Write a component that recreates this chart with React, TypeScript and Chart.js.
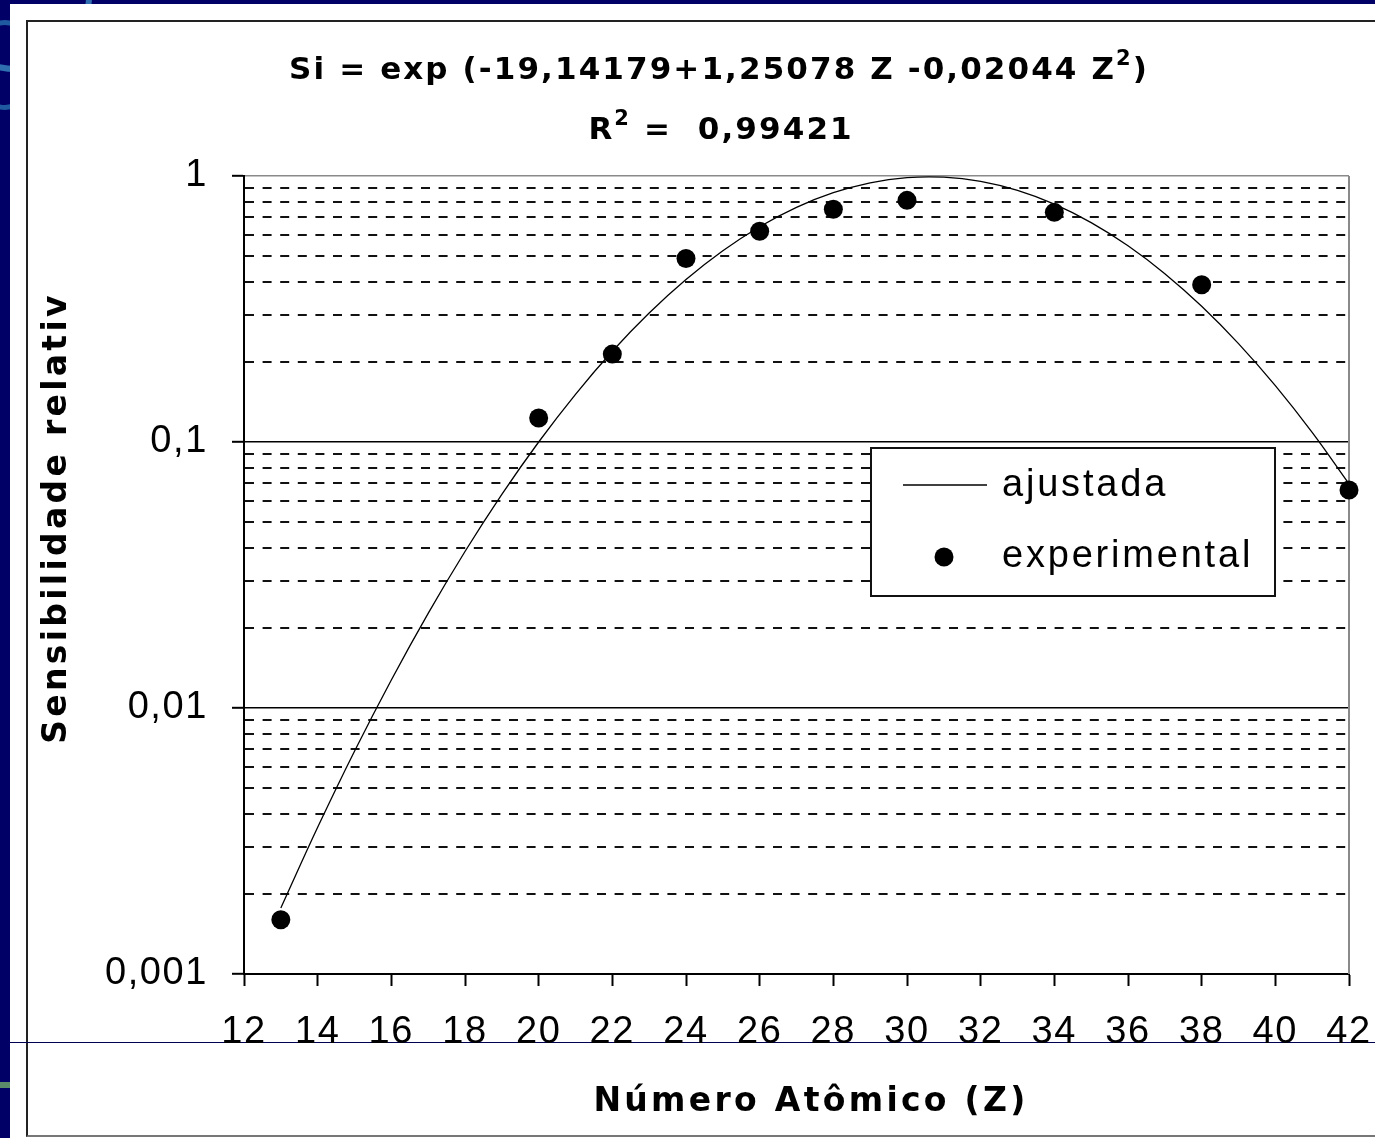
import React, { useEffect, useRef } from 'react';
import { Chart, registerables } from 'chart.js';

Chart.register(...registerables);

// ---- data ----
const fitZ = [13, 14, 15, 16, 17, 18, 19, 20, 21, 22, 23, 24, 25, 26, 27, 28, 29, 30, 31, 32, 33, 34, 35, 36, 37, 38, 39, 40, 41, 42];
const fitSi = [0.00177, 0.00356, 0.00688, 0.01275, 0.02269, 0.03876, 0.06357, 0.1, 0.1511, 0.2193, 0.3053, 0.408, 0.5235, 0.6447, 0.7622, 0.8651, 0.9425, 0.9857, 0.9896, 0.9537, 0.8823, 0.7835, 0.668, 0.5466, 0.4294, 0.3238, 0.2344, 0.1629, 0.1087, 0.0696];
const expZ = [13, 20, 22, 24, 26, 28, 30, 34, 38, 42];
const expSi = [0.0016, 0.123, 0.214, 0.49, 0.62, 0.75, 0.81, 0.73, 0.39, 0.066];

const yMajorValues = [0.001, 0.01, 0.1, 1];
const yMajorLabels = ['0,001', '0,01', '0,1', '1'];
const yMinorMultipliers = [2, 3, 4, 5, 6, 7, 8, 9];
const xMin = 12;
const xMax = 42;
const xStep = 2;

const seriesLabels = ['ajustada', 'experimental'];
const titleLine1 = [
  { t: 'Si = exp (-19,14179+1,25078 Z -0,02044 Z', sup: false },
  { t: '2', sup: true },
  { t: ')', sup: false },
];
const titleLine2 = [
  { t: 'R', sup: false },
  { t: '2', sup: true },
  { t: ' =  0,99421', sup: false },
];
const xTitle = 'Número Atômico (Z)';
const yTitle = 'Sensibilidade relativ';

const FONT = "'Liberation Sans', Arial, sans-serif";
const BOLD_FONT = "'DejaVu Sans', Verdana, sans-serif";

function drawSegments(ctx: CanvasRenderingContext2D, segs: { t: string; sup: boolean }[], cx: number, baseY: number, size: number, supSize: number, spacing: number, rise: number) {
  ctx.save();
  ctx.textAlign = 'left';
  ctx.textBaseline = 'alphabetic';
  ctx.fillStyle = '#000';
  const widths = segs.map((s) => {
    ctx.font = `bold ${s.sup ? supSize : size}px ${BOLD_FONT}`;
    (ctx as any).letterSpacing = '0px';
    return ctx.measureText(s.t).width + spacing * s.t.length;
  });
  const total = widths.reduce((a, b) => a + b, 0) - spacing;
  let x = cx - total / 2;
  segs.forEach((s, i) => {
    ctx.font = `bold ${s.sup ? supSize : size}px ${BOLD_FONT}`;
    (ctx as any).letterSpacing = spacing + 'px';
    ctx.fillText(s.t, x, s.sup ? baseY - rise : baseY);
    x += widths[i];
  });
  ctx.restore();
}

const decorPlugin = {
  id: 'decor',
  beforeDraw(chart: any) {
    (chart.ctx as any).letterSpacing = '1.6px';
  },
  beforeDatasetsDraw(chart: any) {
    const { ctx, chartArea } = chart;
    ctx.save();
    ctx.strokeStyle = '#8a8a8a';
    ctx.lineWidth = 2;
    ctx.beginPath();
    ctx.moveTo(chartArea.right, chartArea.top);
    ctx.lineTo(chartArea.right, chartArea.bottom);
    ctx.stroke();
    ctx.restore();
  },
  afterDatasetsDraw(chart: any) {
    const ctx: CanvasRenderingContext2D = chart.ctx;
    ctx.save();
    // legend box
    const bx = 871, by = 448, bw = 404, bh = 148;
    ctx.fillStyle = '#fff';
    ctx.fillRect(bx, by, bw, bh);
    ctx.strokeStyle = '#111';
    ctx.lineWidth = 2;
    ctx.strokeRect(bx, by, bw, bh);
    ctx.strokeStyle = '#000';
    ctx.lineWidth = 1.3;
    ctx.beginPath();
    ctx.moveTo(903, 485);
    ctx.lineTo(987, 485);
    ctx.stroke();
    ctx.fillStyle = '#000';
    ctx.beginPath();
    ctx.arc(944, 557, 9.5, 0, Math.PI * 2);
    ctx.fill();
    ctx.font = `38px ${FONT}`;
    (ctx as any).letterSpacing = '2.8px';
    ctx.textAlign = 'left';
    ctx.textBaseline = 'middle';
    ctx.fillText(seriesLabels[0], 1002, 486);
    ctx.fillText(seriesLabels[1], 1002, 557);
    ctx.restore();
  },
  afterDraw(chart: any) {
    const ctx: CanvasRenderingContext2D = chart.ctx;
    drawSegments(ctx, titleLine1, 718, 79, 31, 21, 2.1, 14);
    drawSegments(ctx, titleLine2, 720, 139, 31, 21, 2.1, 14);
    ctx.save();
    ctx.fillStyle = '#000';
    ctx.font = `bold 33px ${BOLD_FONT}`;
    (ctx as any).letterSpacing = '3.3px';
    ctx.textAlign = 'center';
    ctx.textBaseline = 'middle';
    ctx.fillText(xTitle, 811, 1102);
    ctx.translate(57, 520);
    ctx.rotate(-Math.PI / 2);
    (ctx as any).letterSpacing = '3.3px';
    ctx.fillText(yTitle, 2, 0);
    ctx.restore();
  },
};

function isMajor(v: number) {
  return yMajorValues.some((m) => Math.abs(m - v) < m * 1e-6);
}

export default function App() {
  const ref = useRef<HTMLCanvasElement | null>(null);
  useEffect(() => {
    if (!ref.current) return;
    const yTicks: number[] = [];
    yMajorValues.forEach((m, i) => {
      yTicks.push(m);
      if (i < yMajorValues.length - 1) yMinorMultipliers.forEach((k) => yTicks.push(+(m * k).toPrecision(6)));
    });
    const chart = new Chart(ref.current, {
      type: 'line',
      data: {
        datasets: [
          {
            label: seriesLabels[0],
            data: fitZ.map((z, i) => ({ x: z, y: fitSi[i] })),
            borderColor: '#000',
            borderWidth: 1.3,
            pointRadius: 0,
            tension: 0.4,
            fill: false,
          },
          {
            label: seriesLabels[1],
            data: expZ.map((z, i) => ({ x: z, y: expSi[i] })),
            showLine: false,
            pointRadius: 9.5,
            pointBackgroundColor: '#000',
            pointBorderWidth: 0,
            borderColor: '#000',
            clip: false,
          },
        ],
      },
      options: {
        responsive: false,
        animation: false,
        devicePixelRatio: 1,
        layout: { padding: { left: 0, right: 26, top: 176, bottom: 0 } },
        plugins: { legend: { display: false }, tooltip: { enabled: false }, title: { display: false } },
        scales: {
          x: {
            type: 'linear',
            min: xMin,
            max: xMax,
            afterFit: (s: any) => {
              s.height = 164;
              s.paddingLeft = 0;
              s.paddingRight = 0;
            },
            ticks: {
              stepSize: xStep,
              color: '#000',
              font: { family: FONT, size: 38 },
              padding: 24,
              maxRotation: 0,
              autoSkip: false,
              callback: (v: any) => String(v),
            },
            grid: {
              drawOnChartArea: false,
              color: '#000',
              tickColor: '#000',
              tickLength: 12,
              tickWidth: 2,
            },
            border: { display: true, color: '#000', width: 2 },
          },
          y: {
            type: 'logarithmic',
            min: 0.001,
            max: 1,
            afterFit: (s: any) => {
              s.width = 244;
              s.paddingTop = 0;
              s.paddingBottom = 0;
            },
            afterBuildTicks: (s: any) => {
              s.ticks = yTicks.map((v) => ({ value: v, major: isMajor(v) }));
            },
            ticks: {
              color: '#000',
              font: { family: FONT, size: 38 },
              padding: 24,
              autoSkip: false,
              callback: (v: any) => {
                const idx = yMajorValues.findIndex((m) => Math.abs(m - v) < m * 1e-6);
                return idx >= 0 ? yMajorLabels[idx] : '';
              },
            },
            grid: {
              color: (c: any) => {
                const v = c.tick ? c.tick.value : 0;
                if (Math.abs(v - 1) < 1e-9) return '#8a8a8a';
                return isMajor(v) ? '#000' : '#111';
              },
              lineWidth: (c: any) => (c.tick && isMajor(c.tick.value) ? 1.6 : 2),
              tickColor: (c: any) => (c.tick && isMajor(c.tick.value) ? '#000' : 'rgba(0,0,0,0)'),
              tickLength: 12,
              tickWidth: 2,
            },
            border: {
              display: true,
              color: '#000',
              width: 2,
              dash: (c: any) => (c.tick && !isMajor(c.tick.value) ? [9, 8.6] : []),
            },
          },
        },
      },
      plugins: [decorPlugin],
    } as any);
    return () => chart.destroy();
  }, []);

  return (
    <div style={{ position: 'fixed', left: 0, top: 0, width: 1375, height: 1138, background: '#000066', overflow: 'hidden' }}>
      <div style={{ position: 'absolute', left: -60, top: -80, width: 140, height: 140, borderRadius: '50%', border: '6px solid #2f6fb0' }} />
      <div style={{ position: 'absolute', left: -30, top: 20, width: 60, height: 80, borderRadius: '50%', border: '5px solid #1f5aa0' }} />
      <div style={{ position: 'absolute', left: 0, top: 1082, width: 10, height: 6, background: '#5a8a6a' }} />
      <div style={{ position: 'absolute', left: 10, top: 4, width: 1365, height: 1134, background: '#fff' }} />
      <div style={{ position: 'absolute', left: 26, top: 20, width: 1375, height: 1117, border: '2px solid #222', borderBottomColor: '#777', boxSizing: 'border-box' }} />
      <div style={{ position: 'absolute', left: 10, top: 1042, width: 1365, height: 1, background: '#000050' }} />
      <canvas ref={ref} width={1375} height={1138} style={{ position: 'absolute', left: 0, top: 0, width: 1375, height: 1138 }} />
    </div>
  );
}
